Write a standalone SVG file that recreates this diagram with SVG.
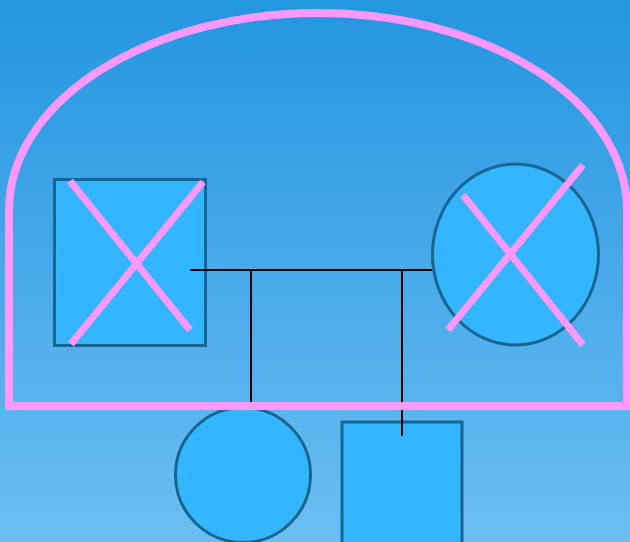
<svg xmlns="http://www.w3.org/2000/svg" width="630" height="542" viewBox="0 0 630 542">
  <defs>
    <linearGradient id="bg" x1="0" y1="0" x2="0" y2="1">
      <stop offset="0" stop-color="#2396e0"/>
      <stop offset="1" stop-color="#6cbef2"/>
    </linearGradient>
  </defs>
  <style>
    .person { fill: #33b5ff; stroke: #1a6490; stroke-width: 3; }
    .cross { stroke: #ff99ff; stroke-width: 7; fill: none; }
    .link { stroke: #000; stroke-width: 2; fill: none; }
    .house { stroke: #ff99ff; stroke-width: 8; fill: none; }
  </style>
  <rect x="0" y="0" width="630" height="542" fill="url(#bg)"/>

  <g id="mother">
    <ellipse class="person" cx="515.5" cy="254.5" rx="83" ry="90.5"/>
  </g>

  <g id="daughter">
    <circle class="person" cx="243" cy="475" r="67.5"/>
  </g>

  <g id="son">
    <rect class="person" x="342" y="422" width="120" height="130"/>
  </g>

  <g id="father">
    <rect class="person" x="54.5" y="179.5" width="151" height="166"/>
  </g>

  <g id="connectors">
    <line class="link" x1="190" y1="270" x2="432" y2="270"/>
    <line class="link" x1="251" y1="270" x2="251" y2="406"/>
    <line class="link" x1="402" y1="270" x2="402" y2="436"/>
  </g>

  <g id="father-cross">
    <line class="cross" x1="70" y1="181" x2="190" y2="330"/>
    <line class="cross" x1="203" y1="182" x2="71" y2="344"/>
  </g>

  <g id="mother-cross">
    <line class="cross" x1="463" y1="195" x2="583" y2="345"/>
    <line class="cross" x1="583" y1="165" x2="448" y2="330"/>
  </g>

  <g id="household">
    <path class="house" d="M9,406 L9,210 A309,197 0 0 1 627,210 L627,406 Z M627,406 L634,406"/>
  </g>
</svg>
